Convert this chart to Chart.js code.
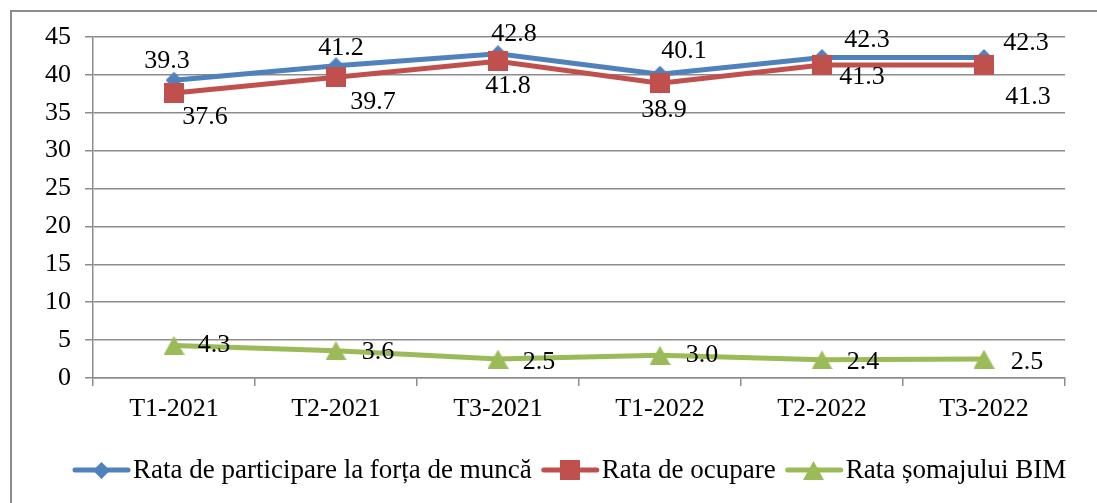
<!DOCTYPE html>
<html>
<head>
<meta charset="utf-8">
<script src="https://cdn.jsdelivr.net/npm/chart.js@4.4.1/dist/chart.umd.min.js"></script>
<style>
  html, body { margin: 0; padding: 0; background: #fff; overflow: hidden; }
  #wrap { position: relative; width: 1097px; height: 503px; }
  #frame { position: absolute; left: 10px; top: 10px; width: 2000px; height: 1000px;
           border-left: 2px solid #8c8c8c; border-top: 2px solid #8c8c8c; }
  #chart { position: absolute; left: 0; top: 0; }
</style>
</head>
<body>
<div id="wrap">
  <div id="frame"></div>
  <canvas id="chart" width="1097" height="503"></canvas>
</div>
<script>
// date
const categories = ['T1-2021', 'T2-2021', 'T3-2021', 'T1-2022', 'T2-2022', 'T3-2022'];
const participare = [39.3, 41.2, 42.8, 40.1, 42.3, 42.3];
const ocupare = [37.6, 39.7, 41.8, 38.9, 41.3, 41.3];
const somaj = [4.3, 3.6, 2.5, 3.0, 2.4, 2.5];
const seriesNames = ['Rata de participare la forța de muncă', 'Rata de ocupare', 'Rata șomajului BIM'];
const yMin = 0, yMax = 45, yStep = 5;

// deplasarea etichetelor fata de punct (px)
const offParticipare = [[-7, -19], [5, -18], [16, -19], [24, -23], [45, -17], [42, -14]];
const offOcupare = [[31, 24], [37, 25], [10, 25], [4, 27], [40, 12], [44, 32]];
const offSomaj = [[40, 0], [42, 1], [41, 3], [42, 0], [41, 2], [43, 3]];

const BLUE = '#4F81BD', RED = '#C0504D', GREEN = '#9BBB59';
const GRID = '#8c8c8c';
const FONT = "'Liberation Serif', 'Times New Roman', serif";

// markere desenate pe canvas mic
function makeMarker(shape, color, w, h) {
    const c = document.createElement('canvas');
    c.width = w; c.height = h;
    const g = c.getContext('2d');
    g.fillStyle = color;
    g.beginPath();
    if (shape === 'diamond') {
        g.moveTo(w / 2, 0); g.lineTo(w, h / 2); g.lineTo(w / 2, h); g.lineTo(0, h / 2);
    } else if (shape === 'triangle') {
        g.moveTo(w / 2, 0); g.lineTo(w, h); g.lineTo(0, h);
    } else {
        g.rect(0, 0, w, h);
    }
    g.closePath();
    g.fill();
    return c;
}
const mDiamond = makeMarker('diamond', BLUE, 17, 17);
const mSquare = makeMarker('square', RED, 20, 20);
const mTriangle = makeMarker('triangle', GREEN, 21, 19);

const labelOffsets = [offParticipare, offOcupare, offSomaj];

const valueLabels = {
    id: 'valueLabels',
    afterDatasetsDraw(chart) {
        const ctx = chart.ctx;
        ctx.save();
        ctx.font = '26px ' + FONT;
        ctx.fillStyle = '#000';
        ctx.textAlign = 'center';
        ctx.textBaseline = 'middle';
        chart.data.datasets.forEach((ds, i) => {
            const meta = chart.getDatasetMeta(i);
            meta.data.forEach((pt, j) => {
                const o = labelOffsets[i][j];
                ctx.fillText(ds.data[j].toFixed(1), pt.x + o[0], pt.y + o[1]);
            });
        });
        ctx.restore();
    }
};

const bottomLegend = {
    id: 'bottomLegend',
    afterDraw(chart) {
        const ctx = chart.ctx;
        const markers = [mDiamond, mSquare, mTriangle];
        const colors = [BLUE, RED, GREEN];
        const y = 470;
        let x = 73;
        ctx.save();
        ctx.font = '27px ' + FONT;
        ctx.textBaseline = 'middle';
        ctx.textAlign = 'left';
        seriesNames.forEach((name, i) => {
            ctx.strokeStyle = colors[i];
            ctx.lineWidth = 5;
            ctx.lineCap = 'round';
            ctx.beginPath();
            ctx.moveTo(x + 2, y);
            ctx.lineTo(x + 55, y);
            ctx.stroke();
            const m = markers[i];
            ctx.drawImage(m, Math.round(x + 28 - m.width / 2), Math.round(y - m.height / 2));
            ctx.fillStyle = '#000';
            ctx.fillText(name, x + 60, y + 1);
            x += 60 + ctx.measureText(name).width + 10;
        });
        ctx.restore();
    }
};

new Chart(document.getElementById('chart'), {
    type: 'line',
    data: {
        labels: categories,
        datasets: [
            { label: seriesNames[0], data: participare, borderColor: BLUE, backgroundColor: BLUE,
              borderWidth: 5, pointStyle: mDiamond, order: 2 },
            { label: seriesNames[1], data: ocupare, borderColor: RED, backgroundColor: RED,
              borderWidth: 5, pointStyle: mSquare, order: 1 },
            { label: seriesNames[2], data: somaj, borderColor: GREEN, backgroundColor: GREEN,
              borderWidth: 5, pointStyle: mTriangle, order: 0 }
        ]
    },
    options: {
        responsive: false,
        animation: false,
        events: [],
        layout: { padding: { left: 0, right: 32, top: 37, bottom: 0 } },
        plugins: {
            legend: { display: false },
            tooltip: { enabled: false }
        },
        elements: { line: { tension: 0 } },
        scales: {
            x: {
                offset: true,
                grid: { offset: true, drawOnChartArea: false, drawTicks: true, tickLength: 8, color: GRID, lineWidth: 1.5 },
                border: { display: true, color: GRID, width: 1.5 },
                ticks: { color: '#000', font: { family: FONT, size: 26 }, padding: 8, maxRotation: 0 },
                afterFit(scale) { scale.height = 125; }
            },
            y: {
                min: yMin, max: yMax,
                grid: { color: GRID, lineWidth: 1.5, tickLength: 8 },
                border: { display: true, color: GRID, width: 1.5 },
                ticks: { stepSize: yStep, color: '#000', font: { family: FONT, size: 26 }, padding: 14 },
                afterFit(scale) { scale.width = 93; }
            }
        }
    },
    plugins: [valueLabels, bottomLegend]
});
</script>
</body>
</html>
